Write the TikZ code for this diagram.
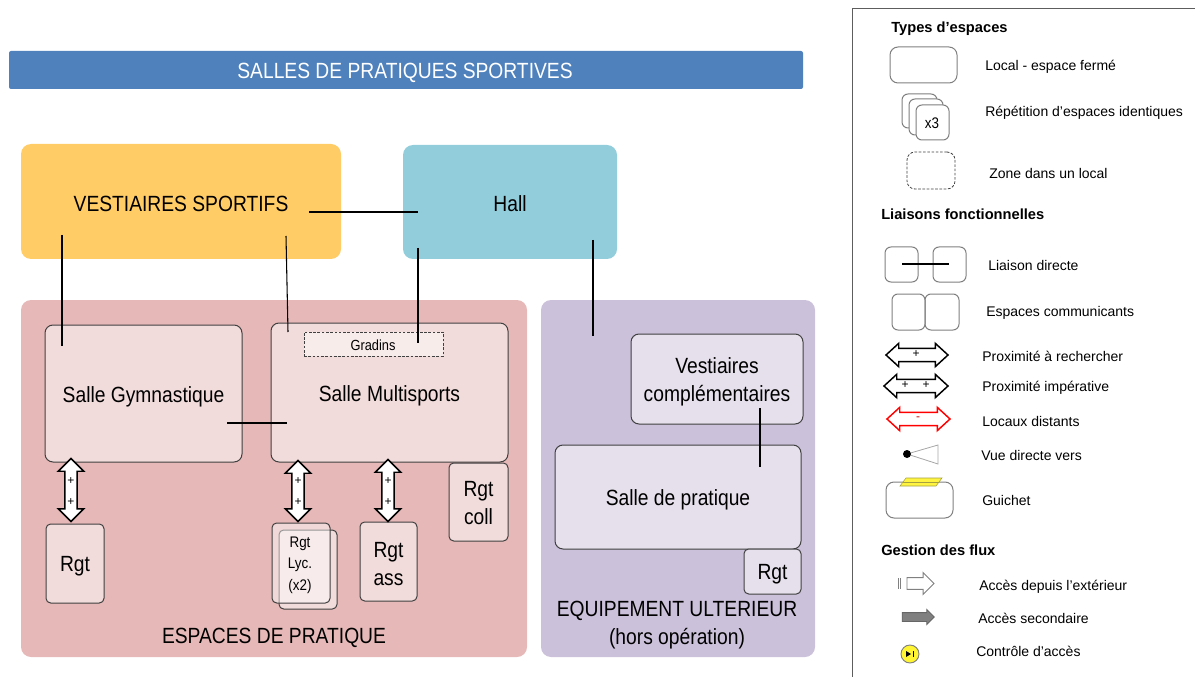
\documentclass[tikz,border=0pt]{standalone}
\usepackage{fontspec}
\usetikzlibrary{shapes.arrows}
\setmainfont[FakeStretch=0.875]{Liberation Sans}
\newfontfamily\legfont[WordSpace=1.45]{Liberation Sans}
\newfontfamily\headfont{Liberation Sans}
\definecolor{titleblue}{HTML}{4F81BD}
\definecolor{vestorange}{HTML}{FFCC66}
\definecolor{hallblue}{HTML}{92CDDC}
\definecolor{zonered}{HTML}{E6B9B8}
\definecolor{zonepurple}{HTML}{CCC1DA}
\definecolor{roomred}{HTML}{F2DCDB}
\definecolor{roompurple}{HTML}{E6E0EC}
\definecolor{edge}{HTML}{404040}
\definecolor{leggray}{HTML}{7F7F7F}
\newcommand\rbox[7][]{\node[rb,#1,minimum width={(#5-#3)*0.75pt},minimum height={(#6-#4)*0.75pt}] (#2) at ({(#3+#5)/2},{(#4+#6)/2}) {};\ifx\relax#7\relax\else\node[rbt] (#2t) at ([yshift=-2.25pt]#2.center) {#7};\fi}
\tikzset{
  rb/.style={rectangle,rounded corners=6pt,inner sep=0pt},
  rbt/.style={inner sep=0pt,align=center,font=\fontsize{16.5}{20}\selectfont},
  zone/.style={rounded corners=7.5pt},
  room/.style={draw=edge,line width=.75pt,fill=roomred},
  proom/.style={draw=edge,line width=.75pt,fill=roompurple},
  small/.style={rounded corners=3.5pt,draw=edge,line width=.75pt,fill=roomred},
  leg/.style={rounded corners=6pt,draw=leggray,line width=.75pt},
  link/.style={draw=black,line width=.8pt},
  vdbl/.style={double arrow,draw=black,fill=white,line width=1.1pt,rotate=90,inner xsep=0pt,inner ysep=4.1pt,
    minimum width=18pt,double arrow head extend=4.9pt,double arrow tip angle=90},
  hdbl/.style={double arrow,draw=black,fill=white,line width=1.1pt,inner xsep=0pt,inner ysep=4.4pt,
    minimum width=16.5pt,double arrow head extend=3.8pt,double arrow tip angle=85},
  ltext/.style={anchor=west,inner sep=0pt,yshift=-.3pt,font=\legfont\fontsize{10.5}{12}\selectfont},
  lhead/.style={anchor=west,inner sep=0pt,yshift=-.5pt,font=\headfont\bfseries\fontsize{11}{12}\selectfont},
  plus/.style={inner sep=0pt,font=\headfont\fontsize{9}{9}\selectfont},
}
\begin{document}
\begin{tikzpicture}[x=0.75pt,y=-0.75pt]
\useasboundingbox (0,0) rectangle (1195,677);
% title
\node[rectangle,fill=titleblue,rounded corners=1.5pt,inner sep=0pt,minimum width={794*0.75pt},minimum height={38*0.75pt}] (title) at (406,70) {};
\node[rbt,text=white] (titletxt) at (405,73) {SALLES DE PRATIQUES SPORTIVES};
% big zones
\rbox[zone,fill=vestorange]{vest}{21}{144}{341}{259}{}
\rbox[zone,fill=hallblue]{hall}{403}{145}{617}{259}{}
\rbox[zone,fill=zonered]{pratique}{21}{300}{527}{657}{}
\rbox[zone,fill=zonepurple]{ulter}{541}{300}{815}{657}{}
\node[rbt] (vesttxt) at (181,203.5) {VESTIAIRES SPORTIFS};
\node[rbt] (halltxt) at (510,204) {Hall};
\node[rbt] (pratxt) at (274,638) {ESPACES DE PRATIQUE};
\node[rbt] (ulttxt) at (677,625) {EQUIPEMENT ULTERIEUR\\[1pt](hors opération)};
% rooms
\rbox[room]{gym}{45}{325}{242}{462}{Salle Gymnastique}
\rbox[room]{multi}{271}{323}{508}{462}{Salle Multisports}
\rbox[dashed,dash pattern=on 2pt off 1.2pt,draw=edge,line width=.6pt,fill=roomred!55!white,rounded corners=0pt]{gradins}{304}{332}{443}{356}{}
\node[rbt,font=\fontsize{11}{12}\selectfont] (gradinstxt) at (373,345.5) {Gradins};
\rbox[proom]{vcomp}{631}{334}{803}{424}{Vestiaires\\[1pt]complémentaires}
\rbox[proom]{sprat}{555}{445}{801}{549}{Salle de pratique}
\rbox[small,fill=roompurple]{rgtp}{744}{549}{801}{594}{Rgt}
\rbox[small]{rgt}{46}{524}{104}{603}{Rgt}
\rbox[small]{rgtlb}{279}{530}{337}{609}{}
\rbox[small,fill=white,fill opacity=.45]{rgtl}{272}{523}{330}{603}{}
\node[rbt,font=\fontsize{11.5}{16}\selectfont] (rgtltxt) at (300,565) {Rgt\\Lyc.\\(x2)};
\rbox[small]{rgta}{360}{522}{417}{601}{Rgt\\[1pt]ass}
\rbox[small]{rgtc}{449}{463}{508}{541}{}
\node[rbt] (rgtct) at (478.5,503.5) {Rgt\\[1pt]coll};
% connectors
\coordinate (c1) at (309,212); \coordinate (c2) at (418,212);
\coordinate (c3) at (62,235);  \coordinate (c4) at (62,346);
\coordinate (c5) at (286,236); \coordinate (c6) at (288,332);
\coordinate (c7) at (418,248); \coordinate (c8) at (418,343);
\coordinate (c9) at (593,240); \coordinate (c10) at (593,336);
\coordinate (c11) at (227,423);\coordinate (c12) at (287,423);
\coordinate (c13) at (760,408);\coordinate (c14) at (760,467);
\draw[link] (c1) -- (c2);
\draw[link] (c3) -- (c4);
\draw[link] (c5) -- (c6);
\draw[link] (c7) -- (c8);
\draw[link] (c9) -- (c10);
\draw[link] (c11) -- (c12);
\draw[link] (c13) -- (c14);
% double arrows
\node[vdbl,minimum height={63*0.75pt}] (a1) at (71,490) {};
\node[vdbl,minimum height={61*0.75pt}] (a2) at (298,491) {};
\node[vdbl,minimum height={62*0.75pt}] (a3) at (388,490.5) {};
\foreach \xx/\nn in {71/a,298/b,388/c}{
  \node[plus] (p\nn1) at (\xx,481) {+};
  \node[plus] (p\nn2) at (\xx,502) {+};
}
% legend frame
\coordinate (f1) at (1195,9); \coordinate (f2) at (852,9); \coordinate (f3) at (852,677);
\draw[draw=edge!85!white,line width=.75pt] (f1) -- (f2) -- (f3);
% legend: types
\node[lhead] (t1) at (891,28) {Types d’espaces};
\rbox[leg]{l1}{890}{47}{957}{83}{}
\node[ltext] (tl1) at (985,66) {Local - espace fermé};
\rbox[leg,fill=white,rounded corners=4.5pt]{l2a}{902}{94}{937}{128}{}
\rbox[leg,fill=white,rounded corners=4.5pt]{l2b}{909}{99}{943}{135}{}
\rbox[leg,fill=white,rounded corners=4.5pt]{l2c}{916}{105}{949}{140}{}
\node[rbt,font=\fontsize{11.5}{12}\selectfont] (l2ct) at (932,123.5) {x3};
\node[ltext] (tl2) at (985,112) {Répétition d’espaces identiques};
\rbox[leg,dashed,dash pattern=on 2pt off 1.2pt,draw=edge,line width=.6pt]{l3}{907}{152}{955}{189}{}
\node[ltext] (tl3) at (989,173) {Zone dans un local};
\node[lhead] (t2) at (881,214) {Liaisons fonctionnelles};
\rbox[leg,rounded corners=4.5pt]{l4a}{885}{247}{918}{282}{}
\rbox[leg,rounded corners=4.5pt]{l4b}{933}{247}{966}{282}{}
\coordinate (ll1) at (902,264); \coordinate (ll2) at (949,264);
\draw[link] (ll1) -- (ll2);
\node[ltext] (tl4) at (988,265) {Liaison directe};
\rbox[leg,rounded corners=4.5pt]{l5a}{892}{294}{925}{330}{}
\rbox[leg,rounded corners=4.5pt]{l5b}{925}{294}{959}{330}{}
\node[ltext] (tl5) at (986,312) {Espaces communicants};
\node[hdbl,minimum height={62*0.75pt}] (h1) at (917,355) {};
\node[plus] (h1p) at (916,354) {+};
\node[ltext] (tl6) at (982,356) {Proximité à rechercher};
\node[hdbl,minimum height={64*0.75pt}] (h2) at (916,386) {};
\node[plus] (h2p) at (905,385) {+};
\node[plus] (h2q) at (926,385) {+};
\node[ltext] (tl7) at (982,387) {Proximité impérative};
\node[hdbl,draw=red,minimum height={63*0.75pt}] (h3) at (918.5,419) {};
\node[plus,text=red!80!black] (h3p) at (918,419) {-};
\node[ltext] (tl8) at (982,421) {Locaux distants};
\coordinate (dotc) at (907,454);
\coordinate (v1) at (938,445); \coordinate (v2) at (938,464);
\draw[draw=gray!70!white,line width=.6pt] (dotc) -- (v1) -- (v2) -- cycle;
\node[circle,fill=black,inner sep=0pt,minimum size=6pt] (dot) at (dotc) {};
\node[ltext] (tl9) at (981,455) {Vue directe vers};
\rbox[leg]{l6}{886}{482}{953}{518}{}
\coordinate (g1) at (900,486); \coordinate (g2) at (936,486); \coordinate (g3) at (942,478); \coordinate (g4) at (906,478);
\coordinate (g5) at (903,482); \coordinate (g6) at (939,482);
\draw[draw=yellow!60!black,line width=.4pt,fill=yellow!75!white] (g1) -- (g2) -- (g3) -- (g4) -- cycle;
\draw[draw=yellow!60!black,line width=.4pt] (g5) -- (g6);
\node[ltext] (tl10) at (982,500) {Guichet};
\node[lhead] (t3) at (881,550) {Gestion des flux};
\node[single arrow,draw=gray,fill=white,line width=.7pt,inner xsep=0pt,inner ysep=4.1pt,minimum height={27*0.75pt},minimum width={21*0.75pt},single arrow head extend=3.75pt,single arrow tip angle=90] (s1) at (917.5,583.5) {};
\coordinate (b1) at (898,578); \coordinate (b2) at (898,589); \coordinate (b3) at (900.5,578); \coordinate (b4) at (900.5,589);
\draw[draw=gray,line width=.6pt] (b1) -- (b2) (b3) -- (b4);
\node[ltext] (tl11) at (979,586) {Accès depuis l’extérieur};
\node[single arrow,draw=gray!80!black,fill=gray,line width=.7pt,inner xsep=0pt,inner ysep=3pt,minimum height={32*0.75pt},minimum width={14*0.75pt},single arrow head extend=2.25pt,single arrow tip angle=90] (s2) at (916,617) {};
\node[ltext] (tl12) at (978,618) {Accès secondaire};
\node[circle,draw=gray,fill=yellow!80!white,line width=.7pt,inner sep=0pt,minimum size=13.5pt] (ctrl) at (910,654) {};
\coordinate (k1) at (906,651); \coordinate (k2) at (906,657); \coordinate (k3) at (911,654);
\coordinate (k4) at (913,651); \coordinate (k5) at (913,657);
\fill[black] (k1) -- (k2) -- (k3) -- cycle;
\draw[line width=.7pt] (k4) -- (k5);
\node[ltext] (tl13) at (976,651) {Contrôle d’accès};
\end{tikzpicture}
\end{document}
